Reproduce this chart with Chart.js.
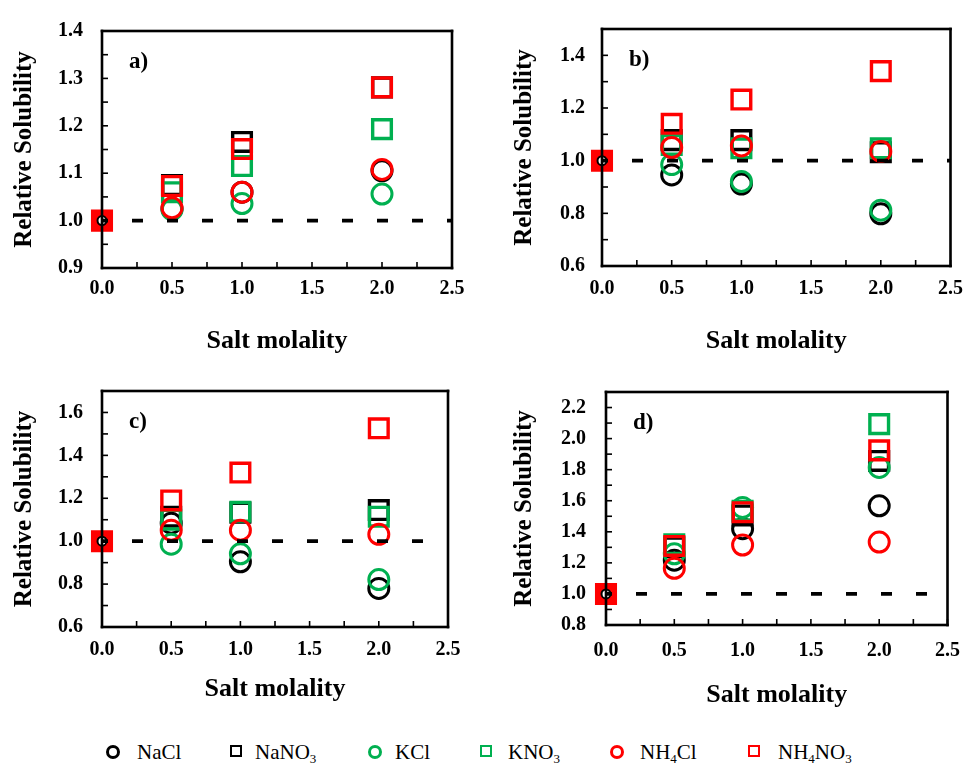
<!DOCTYPE html>
<html>
<head>
<meta charset="utf-8">
<script src="https://cdn.jsdelivr.net/npm/chart.js@4.4.0/dist/chart.umd.min.js"></script>
<style>
	body { margin: 0; background: #fff; }
	#wrap { position: relative; width: 974px; height: 766px; overflow: hidden; font-family: "Liberation Serif", "Times New Roman", serif; }
	#wrap canvas { position: absolute; }
	.lg-mark { position: absolute; width: 8px; height: 8px; border: 3px solid #000; top: 745px; }
	.lg-mark.circle { border-radius: 50%; }
	.lg-mark.square { width: 8px; height: 8px; border-width: 2.6px; }
	.lg-text { position: absolute; top: 739px; font-size: 21px; line-height: 26px; color: #000; white-space: nowrap; }
	.lg-text sub { font-size: 13px; vertical-align: -4px; line-height: 0; }
</style>
</head>
<body>
<div id="wrap">
	<canvas id="chart-a" width="475" height="360" style="left:0;top:0"></canvas>
	<canvas id="chart-b" width="484" height="360" style="left:490px;top:0"></canvas>
	<canvas id="chart-c" width="475" height="350" style="left:0;top:360px"></canvas>
	<canvas id="chart-d" width="484" height="355" style="left:490px;top:360px"></canvas>
	<div id="legend"></div>
</div>
<script>
// :: 1.0 Data
// :: 2.0 Frame plugin
// :: 3.0 Panels
// :: 4.0 Legend

// :: 1.0 Data
var molality = [0, 0.5, 1.0, 2.0];
var xTicks = [0, 2.5];

// a)
var naclA = [1, 1.025, 1.06, 1.105];
var nano3A = [1, 1.075, 1.166, 1.281];
var kclA = [1, 1.023, 1.036, 1.056];
var kno3A = [1, 1.06, 1.115, 1.193];
var nh4clA = [1, 1.027, 1.06, 1.108];
var nh4no3A = [1, 1.073, 1.151, 1.281];

// b)
var naclB = [1, 0.946, 0.911, 0.798];
var nano3B = [1, 1.078, 1.078, 1.032];
var kclB = [1, 0.985, 0.921, 0.812];
var kno3B = [1, 1.06, 1.047, 1.047];
var nh4clB = [1, 1.05, 1.056, 1.035];
var nh4no3B = [1, 1.14, 1.232, 1.34];

// c)
var naclC = [1, 1.084, 0.904, 0.78];
var nano3C = [1, 1.114, 1.133, 1.145];
var kclC = [1, 0.986, 0.941, 0.821];
var kno3C = [1, 1.1, 1.137, 1.114];
var nh4clC = [1, 1.051, 1.051, 1.032];
var nh4no3C = [1, 1.19, 1.32, 1.526];

// d)
var naclD = [1, 1.217, 1.42, 1.567];
var nano3D = [1, 1.3, 1.505, 1.856];
var kclD = [1, 1.258, 1.557, 1.814];
var kno3D = [1, 1.32, 1.536, 2.093];
var nh4clD = [1, 1.165, 1.315, 1.334];
var nh4no3D = [1, 1.309, 1.526, 1.924];

var saltNames = ['NaCl', 'NaNO\u2083', 'KCl', 'KNO\u2083', 'NH\u2084Cl', 'NH\u2084NO\u2083'];
var saltColors = ['#000000', '#000000', '#00b050', '#00b050', '#ff0000', '#ff0000'];
var saltStyles = ['circle', 'rect', 'circle', 'rect', 'circle', 'rect'];

(function () {
	'use strict';

	Chart.defaults.font.family = '"Liberation Serif", "Times New Roman", serif';
	Chart.defaults.color = '#000';

	// :: 2.0 Frame plugin (box, inward ticks, panel letter)
	// drawn with fillRect, strokes here did not show up
	var framePlugin = {
		id: 'frame',
		afterDraw: function (chart, args, opts) {
			var ctx = chart.ctx;
			var area = chart.chartArea;
			var xs = chart.scales.x;
			var ys = chart.scales.y;
			var w = area.right - area.left;
			var h = area.bottom - area.top;
			var bw = 2.6;
			var tw = 1.6;

			ctx.save();
			ctx.globalAlpha = 1;
			ctx.fillStyle = '#000000';

			ys.ticks.forEach(function (t) {
				var py = ys.getPixelForValue(t.value);
				ctx.fillRect(area.left, py - tw / 2, 6, tw);
			});
			xs.ticks.forEach(function (t) {
				var px = xs.getPixelForValue(t.value);
				ctx.fillRect(px - tw / 2, area.bottom - 6, tw, 6);
			});

			ctx.fillRect(area.left - bw / 2, area.top - bw / 2, w + bw, bw);
			ctx.fillRect(area.left - bw / 2, area.bottom - bw / 2, w + bw, bw);
			ctx.fillRect(area.left - bw / 2, area.top - bw / 2, bw, h + bw);
			ctx.fillRect(area.right - bw / 2, area.top - bw / 2, bw, h + bw);

			ctx.font = 'bold 23px "Liberation Serif", serif';
			ctx.textBaseline = 'middle';
			ctx.textAlign = 'left';
			ctx.fillText(opts.text, area.left + 27, area.top + 31);
			ctx.restore();
		}
	};

	function tickLabel(labelStep) {
		return function (value) {
			var r = value / labelStep;
			return Math.abs(r - Math.round(r)) < 1e-6 ? value.toFixed(1) : '';
		};
	}

	function buildSets(series) {
		var sets = [];
		series.forEach(function (ys, i) {
			var isRect = saltStyles[i] === 'rect';
			var last = i === series.length - 1;
			sets.push({
				label: saltNames[i],
				data: molality.map(function (m, k) { return { x: m, y: ys[k] }; }),
				pointStyle: saltStyles[i],
				borderColor: saltColors[i],
				pointBorderColor: saltColors[i],
				pointBackgroundColor: function (c) {
					return (last && c.dataIndex === 0) ? saltColors[i] : 'rgba(0,0,0,0)';
				},
				pointRadius: function (c) {
					if (c.dataIndex === 0 && !last) return 0;
					return isRect ? 13.2 : 10;
				},
				pointBorderWidth: isRect ? 3.4 : 3,
				showLine: false,
				clip: false,
				order: series.length - i + 1
			});
		});

		// small marker at the reference point
		sets.push({
			label: 'ref',
			data: [{ x: molality[0], y: series[0][0] }],
			pointStyle: 'circle',
			pointRadius: 4.5,
			pointBorderWidth: 2,
			pointBorderColor: '#000',
			pointBackgroundColor: '#fff',
			showLine: false,
			clip: false,
			order: 1
		});

		// dashed line at relative solubility = 1
		sets.push({
			label: 'base',
			data: xTicks.map(function (m) { return { x: m, y: series[0][0] }; }),
			showLine: true,
			borderColor: '#000',
			borderWidth: 3.8,
			borderDash: [11, 24],
			borderDashOffset: 5,
			pointRadius: 0,
			clip: false,
			order: 0
		});
		return sets;
	}

	// :: 3.0 Panels
	function makePanel(id, series, cfg) {
		var ctx = document.getElementById(id).getContext('2d');
		return new Chart(ctx, {
			type: 'scatter',
			data: { datasets: buildSets(series) },
			options: {
				responsive: false,
				animation: false,
				devicePixelRatio: 1,
				layout: { padding: { top: cfg.padTop, right: cfg.padRight, left: 0, bottom: 0 } },
				scales: {
					x: {
						type: 'linear',
						min: xTicks[0],
						max: xTicks[1],
						grid: { display: false, drawTicks: false },
						border: { display: false },
						ticks: {
							stepSize: 0.25,
							autoSkip: false,
							maxRotation: 0,
							padding: cfg.xTickPad,
							font: { size: 20, weight: 'bold' },
							callback: tickLabel(0.5)
						},
						title: {
							display: true,
							text: 'Salt molality',
							font: { size: 26, weight: 'bold' },
							padding: { top: 0, bottom: cfg.xTitlePad }
						},
						afterFit: function (scale) { scale.height = cfg.xHeight; }
					},
					y: {
						type: 'linear',
						min: cfg.yMin,
						max: cfg.yMax,
						grid: { display: false, drawTicks: false },
						border: { display: false },
						ticks: {
							stepSize: cfg.yStep,
							autoSkip: false,
							padding: cfg.yTickPad,
							font: { size: 20, weight: 'bold' },
							callback: tickLabel(cfg.yLabelStep)
						},
						title: {
							display: true,
							text: 'Relative Solubility',
							font: { size: 25, weight: 'bold' },
							padding: { top: cfg.yTitlePad, bottom: 0 }
						},
						afterFit: function (scale) { scale.width = cfg.yWidth; }
					}
				},
				plugins: {
					legend: { display: false },
					tooltip: { enabled: false },
					frame: { text: cfg.letter }
				}
			},
			plugins: [framePlugin]
		});
	}

	makePanel('chart-a', [naclA, nano3A, kclA, kno3A, nh4clA, nh4no3A], {
		letter: 'a)', yMin: 0.9, yMax: 1.4, yStep: 0.05, yLabelStep: 0.1,
		padTop: 24, padRight: 23, yWidth: 102, xHeight: 92,
		yTickPad: 19, yTitlePad: 10, xTickPad: 9, xTitlePad: 3
	});

	makePanel('chart-b', [naclB, nano3B, kclB, kno3B, nh4clB, nh4no3B], {
		letter: 'b)', yMin: 0.6, yMax: 1.5, yStep: 0.1, yLabelStep: 0.2,
		padTop: 24, padRight: 16, yWidth: 112, xHeight: 94,
		yTickPad: 17, yTitlePad: 20, xTickPad: 11, xTitlePad: 3
	});

	makePanel('chart-c', [naclC, nano3C, kclC, kno3C, nh4clC, nh4no3C], {
		letter: 'c)', yMin: 0.6, yMax: 1.7, yStep: 0.1, yLabelStep: 0.2,
		padTop: 23, padRight: 27, yWidth: 102, xHeight: 83,
		yTickPad: 19, yTitlePad: 10, xTickPad: 11, xTitlePad: 5
	});

	makePanel('chart-d', [naclD, nano3D, kclD, kno3D, nh4clD, nh4no3D], {
		letter: 'd)', yMin: 0.8, yMax: 2.3, yStep: 0.1, yLabelStep: 0.2,
		padTop: 23, padRight: 17, yWidth: 116, xHeight: 90,
		yTickPad: 20, yTitlePad: 20, xTickPad: 14, xTitlePad: 4
	});

	// :: 4.0 Legend
	var legendMarks = [113, 237, 375, 487, 617, 755];
	var legendTexts = [137, 255, 395, 508, 640, 778];
	var legendHtml = ['NaCl', 'NaNO<sub>3</sub>', 'KCl', 'KNO<sub>3</sub>', 'NH<sub>4</sub>Cl', 'NH<sub>4</sub>NO<sub>3</sub>'];
	var legend = document.getElementById('legend');
	saltNames.forEach(function (name, i) {
		var mark = document.createElement('div');
		mark.className = 'lg-mark ' + (saltStyles[i] === 'rect' ? 'square' : 'circle');
		mark.style.left = (legendMarks[i] - 7) + 'px';
		mark.style.borderColor = saltColors[i];
		legend.appendChild(mark);

		var txt = document.createElement('div');
		txt.className = 'lg-text';
		txt.style.left = legendTexts[i] + 'px';
		txt.innerHTML = legendHtml[i];
		legend.appendChild(txt);
	});
}());
</script>
</body>
</html>
